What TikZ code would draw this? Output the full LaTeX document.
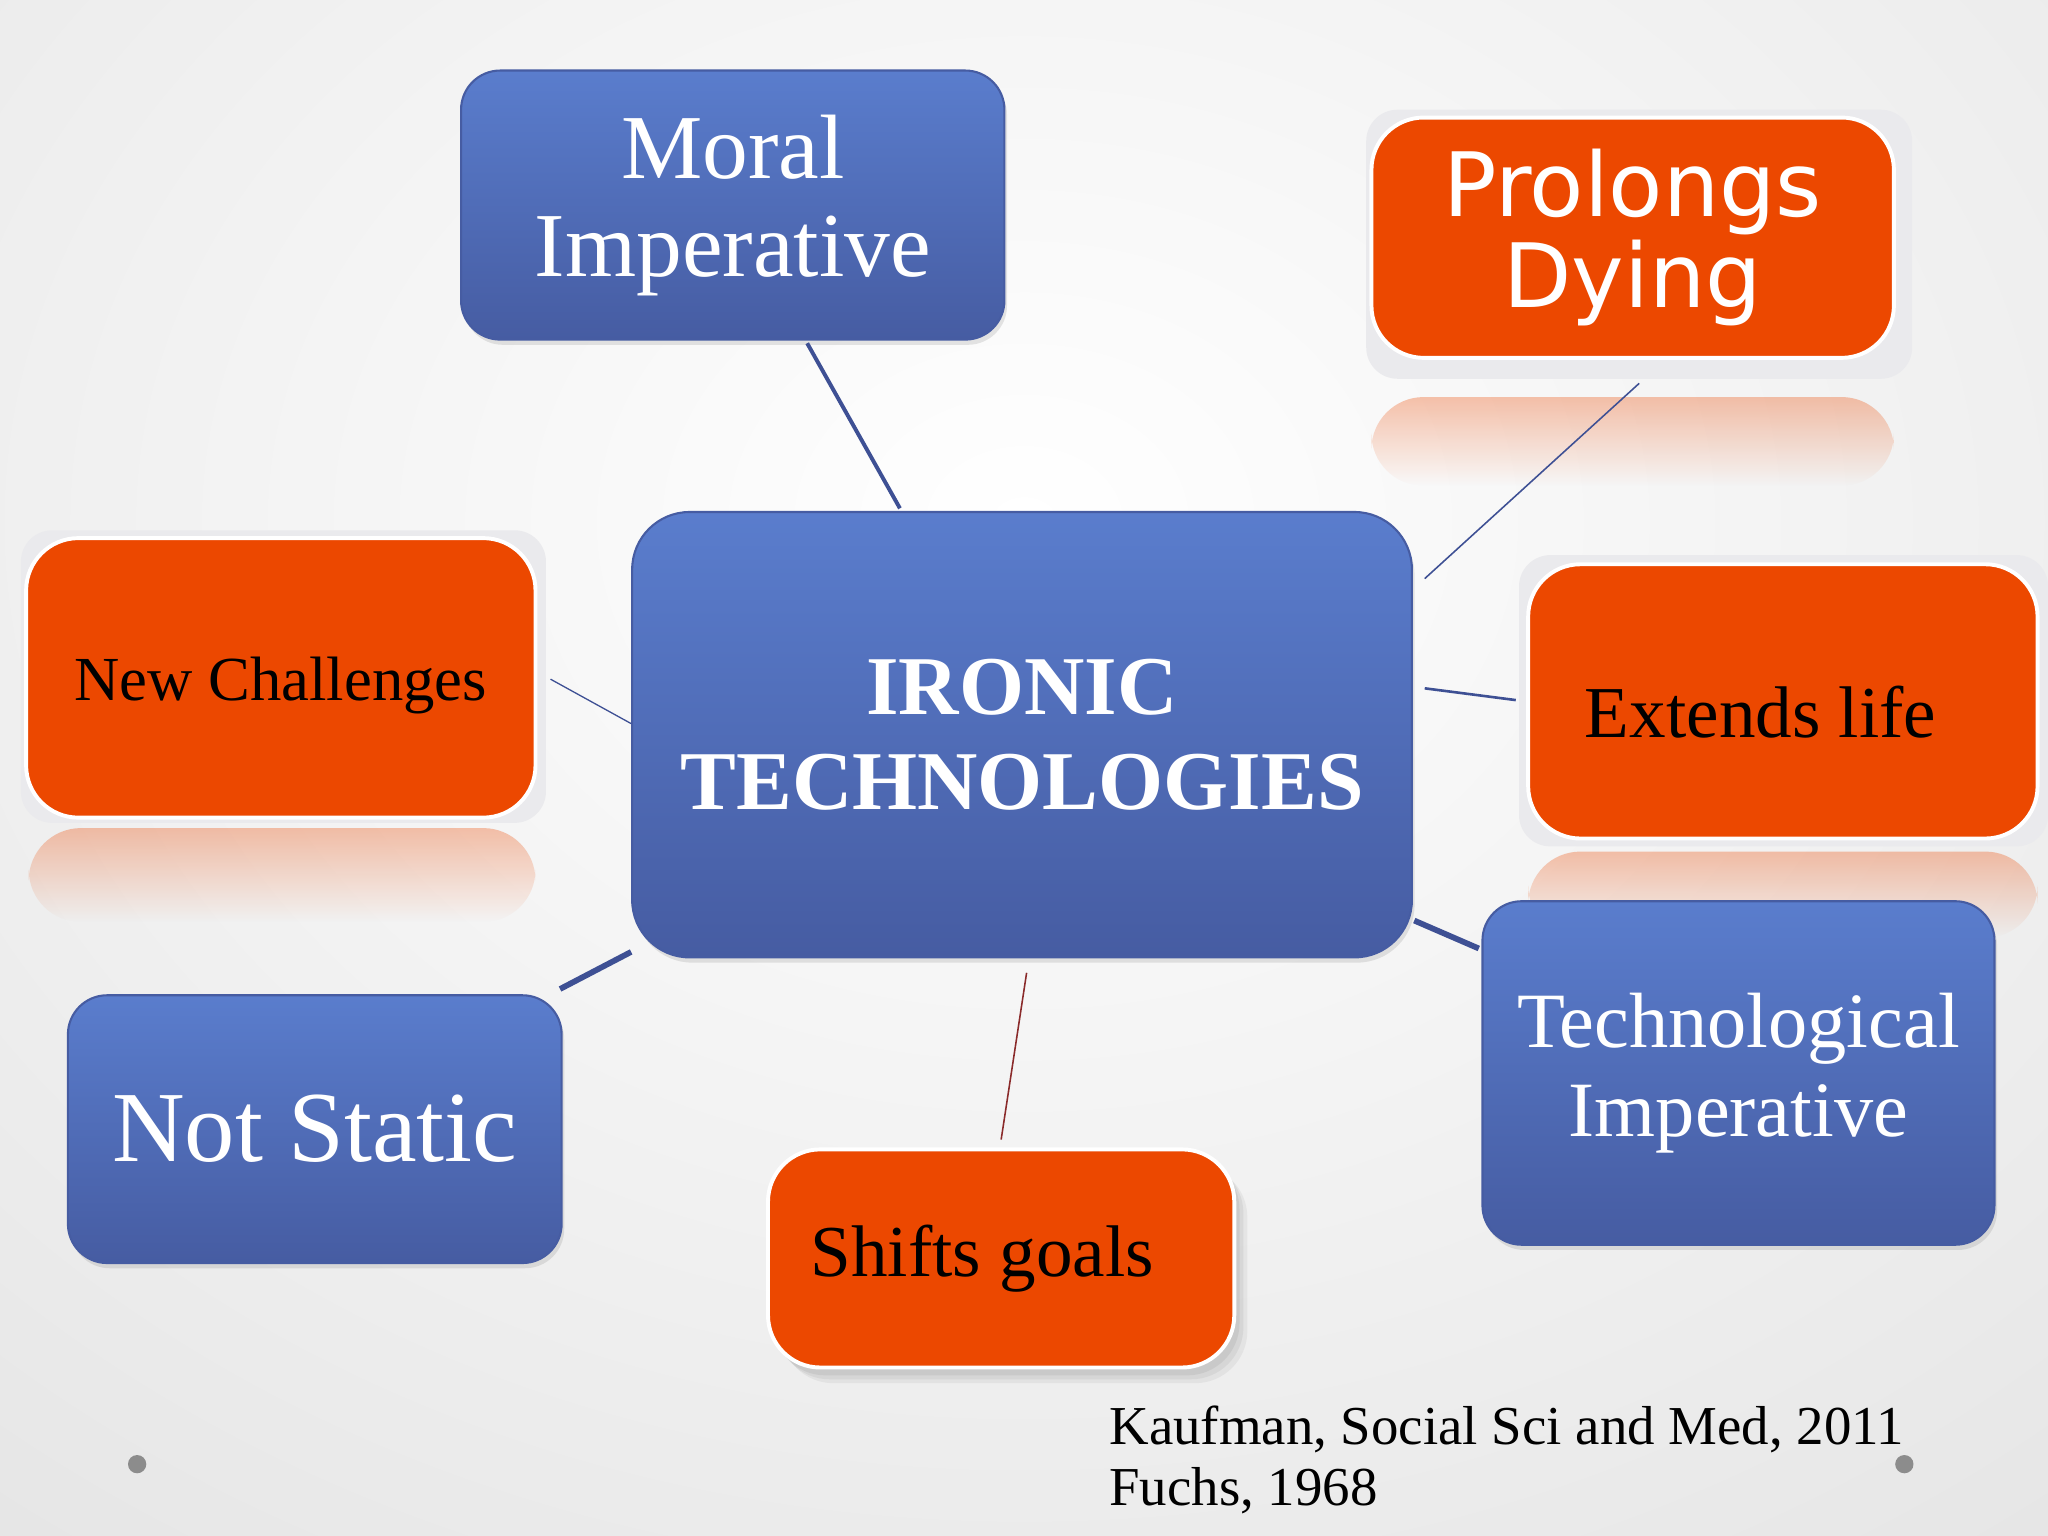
\documentclass[tikz,border=0pt]{standalone}
\usepackage{fontspec}
\setmainfont{Liberation Serif}
\newfontfamily\dejavusans{DejaVu Sans}
\usetikzlibrary{calc,shadows,fadings}
\definecolor{boxblue}{RGB}{90,125,205}
\definecolor{boxbluedark}{RGB}{70,92,162}
\definecolor{boxorange}{RGB}{236,72,0}
\definecolor{linkblue}{RGB}{62,80,148}
\definecolor{linkred}{RGB}{138,42,42}
\definecolor{plategray}{RGB}{234,234,237}
\tikzfading[name=reflfade, top color=transparent!68, bottom color=transparent!100]

\begin{document}
\begin{tikzpicture}[x=0.5pt,y=0.5pt,yscale=-1,xscale=1,
  bluebox/.style={rounded corners=15pt, top color=boxblue, bottom color=boxbluedark, draw=boxbluedark, line width=0.8pt, text=white, align=center, inner sep=0pt, drop shadow={shadow xshift=1pt, shadow yshift=-2pt, opacity=0.2}},
  orangebox/.style={rounded corners=20pt, fill=boxorange, draw=white, line width=1.5pt, align=center, inner sep=0pt},
  link/.style={draw=linkblue}]
%uncomment if require: \path (0,1176); %set diagram left start at 0, and has height of 1176

%Shape: Background
\begin{scope}
\clip (0,0) rectangle (1568,1176);
\shade[inner color=white, outer color=black!17] (-1400,-1300) rectangle (2968,2100);
\end{scope}
\useasboundingbox (0,0) rectangle (1568,1176);

%Shape: Plates and reflections under the orange boxes
\fill[plategray, rounded corners=12pt] (1046,84) rectangle (1464,290);
\fill[boxorange, path fading=reflfade, rounded corners=20pt] (1050,304) rectangle (1450,372);
\fill[plategray, rounded corners=12pt] (16,406) rectangle (418,630);
\fill[boxorange, path fading=reflfade, rounded corners=20pt] (22,634) rectangle (410,706);
\fill[plategray, rounded corners=12pt] (1163,425) rectangle (1568,648);
\fill[boxorange, path fading=reflfade, rounded corners=20pt] (1170,652) rectangle (1560,718);

% Box Nodes
\node[bluebox, minimum width=208pt, minimum height=103pt, font=\fontsize{35}{37.5}\selectfont] (moral) at (561,157) {Moral\\Imperative};
\node[orangebox, minimum width=200pt, minimum height=92pt, text=white, font=\dejavusans\fontsize{34}{35}\selectfont] (prolongs) at (1250,182) {Prolongs\\Dying};
\node[bluebox, rounded corners=22pt, minimum width=298.5pt, minimum height=170.5pt, font=\bfseries\fontsize{32}{36.5}\selectfont] (center) at (782.5,562.5) {IRONIC\\TECHNOLOGIES};
\node[orangebox, minimum width=195pt, minimum height=107pt, font=\fontsize{24}{28}\selectfont] (newch) at (215,519) {\raisebox{-3pt}[\height][\depth]{New Challenges}};
\node[orangebox, minimum width=195pt, minimum height=105pt, font=\fontsize{28}{30}\selectfont] (extends) at (1365,537) {\raisebox{-4pt}[\height][\depth]{Extends life}\hspace*{17pt}};
\node[bluebox, minimum width=196pt, minimum height=131.5pt, font=\fontsize{30}{34}\selectfont] (techno) at (1331,821.5) {Technological\\Imperative};
\node[bluebox, minimum width=189pt, minimum height=102.5pt, font=\fontsize{38.5}{40}\selectfont] (notstatic) at (241,864.5) {Not Static};
\node[orangebox, minimum width=178.5pt, minimum height=83.5pt, font=\fontsize{28}{30}\selectfont,
  drop shadow={shadow xshift=5pt, shadow yshift=-6pt, opacity=0.1},
  drop shadow={shadow xshift=3.5pt, shadow yshift=-4.5pt, opacity=0.12},
  drop shadow={shadow xshift=2pt, shadow yshift=-3pt, opacity=0.15}] (shifts) at (766.5,963.5) {Shifts goals\hspace*{14.5pt}};

%Straight Lines
\draw[link, line width=1.5pt] ($(moral.south)+(57,2)$) -- ($(center.north)+(-93.5,-2)$);
\draw[link, line width=0.6pt] ($(prolongs.south)+(5,18)$) -- ($(center.east)+(9,-119.5)$);
\draw[link, line width=0.5pt] ($(newch.east)+(10,1)$) -- ($(center.west)+(0,-8.5)$);
\draw[link, line width=1pt] ($(extends.west)+(-8,-1)$) -- ($(center.east)+(9,-35.5)$);
\draw[link, line width=2.2pt] ($(techno.north west)+(-2,37)$) -- ($(center.south east)+(1,-29)$);
\draw[link, line width=2.2pt] ($(notstatic.north east)+(-2,-4)$) -- ($(center.south west)+(0,-5)$);
\draw[draw=linkred, line width=0.6pt] ($(shifts.north)+(0,-6)$) -- ($(center.south)+(3.5,11)$);

% Text Node
\node[anchor=north west, inner sep=0pt, align=left, font=\fontsize{21}{23.5}\selectfont] (cite) at (849,1076) {Kaufman, Social Sci and Med, 2011\\Fuchs, 1968};

%Shape: Circles
\fill[black!45] (105,1121) circle (7);
\fill[black!45] (1458,1121) circle (7);

\end{tikzpicture}
\end{document}
